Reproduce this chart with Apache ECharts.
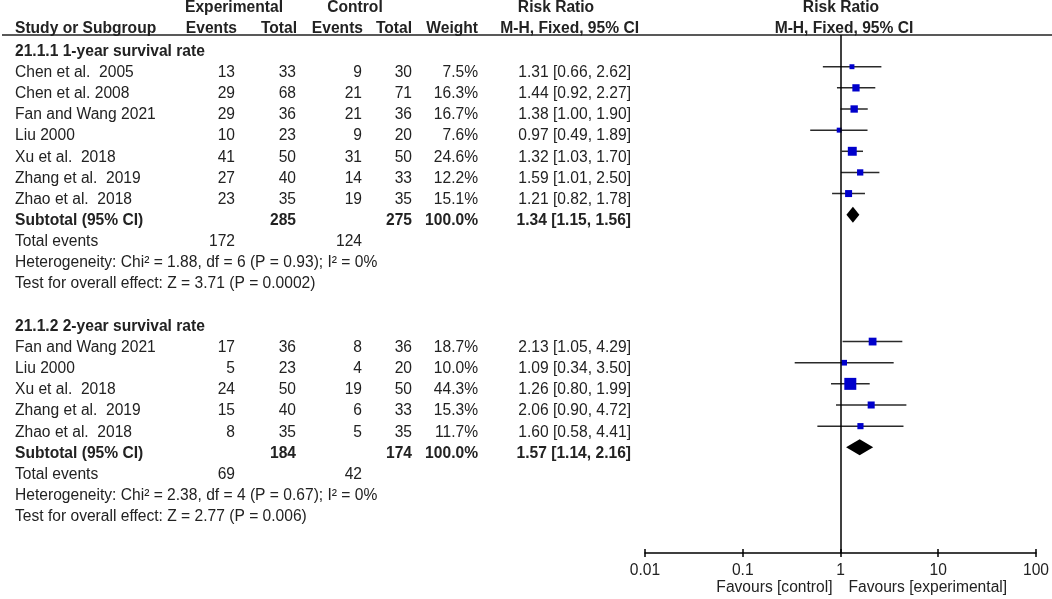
<!DOCTYPE html>
<html>
<head>
<meta charset="utf-8">
<title>Forest plot</title>
<script src="https://cdn.jsdelivr.net/npm/echarts@6/dist/echarts.min.js"></script>
<style>
    html, body { margin: 0; padding: 0; background: #fff; }
    #forestPlot { width: 1052px; height: 599px; }
</style>
</head>
<body>
<div id="forestPlot"></div>
<script>
// group 1: 1-year survival rate
var studies1 = ['Chen et al.  2005', 'Chen et al. 2008', 'Fan and Wang 2021', 'Liu 2000', 'Xu et al.  2018', 'Zhang et al.  2019', 'Zhao et al.  2018'];
var expEvents1 = [13, 29, 29, 10, 41, 27, 23];
var expTotal1 = [33, 68, 36, 23, 50, 40, 35];
var ctrlEvents1 = [9, 21, 21, 9, 31, 14, 19];
var ctrlTotal1 = [30, 71, 36, 20, 50, 33, 35];
var weight1 = [7.5, 16.3, 16.7, 7.6, 24.6, 12.2, 15.1];
var rr1 = [1.31, 1.44, 1.38, 0.97, 1.32, 1.59, 1.21];
var lower1 = [0.66, 0.92, 1.00, 0.49, 1.03, 1.01, 0.82];
var upper1 = [2.62, 2.27, 1.90, 1.89, 1.70, 2.50, 1.78];

// group 2: 2-year survival rate
var studies2 = ['Fan and Wang 2021', 'Liu 2000', 'Xu et al.  2018', 'Zhang et al.  2019', 'Zhao et al.  2018'];
var expEvents2 = [17, 5, 24, 15, 8];
var expTotal2 = [36, 23, 50, 40, 35];
var ctrlEvents2 = [8, 4, 19, 6, 5];
var ctrlTotal2 = [36, 20, 50, 33, 35];
var weight2 = [18.7, 10.0, 44.3, 15.3, 11.7];
var rr2 = [2.13, 1.09, 1.26, 2.06, 1.60];
var lower2 = [1.05, 0.34, 0.80, 0.90, 0.58];
var upper2 = [4.29, 3.50, 1.99, 4.72, 4.41];

// subtotals [group1, group2]
var groupTitles = ['21.1.1 1-year survival rate', '21.1.2 2-year survival rate'];
var subExpTotal = [285, 184];
var subCtrlTotal = [275, 174];
var subRR = [1.34, 1.57];
var subLower = [1.15, 1.14];
var subUpper = [1.56, 2.16];
var totalExpEvents = [172, 69];
var totalCtrlEvents = [124, 42];
var heterogeneity = ['Heterogeneity: Chi\u00b2 = 1.88, df = 6 (P = 0.93); I\u00b2 = 0%', 'Heterogeneity: Chi\u00b2 = 2.38, df = 4 (P = 0.67); I\u00b2 = 0%'];
var overallTest = ['Test for overall effect: Z = 3.71 (P = 0.0002)', 'Test for overall effect: Z = 2.77 (P = 0.006)'];

var tickLabels = ['0.01', '0.1', '1', '10', '100'];
var favourLabels = ['Favours [control]', 'Favours [experimental]'];

// row index of each block (row 0 = first group title)
var groupStart = [0, 13];

var FONT = "'Liberation Sans', Arial, sans-serif";
var FS = 15.6;
var TEXT = '#222';
var rowTop = 51.5;
var rowH = 21.15;

function fmtCI(r, l, u) {
    return r.toFixed(2) + ' [' + l.toFixed(2) + ', ' + u.toFixed(2) + ']';
}

// study rows for the plot: [rr, lower, upper, row, weight]
var studyData = [];
var tableRows = [];
var groups = [
    [studies1, expEvents1, expTotal1, ctrlEvents1, ctrlTotal1, weight1, rr1, lower1, upper1],
    [studies2, expEvents2, expTotal2, ctrlEvents2, ctrlTotal2, weight2, rr2, lower2, upper2]
];
var diamondData = [];

groups.forEach(function (g, gi) {
    var start = groupStart[gi];
    tableRows.push({ row: start, bold: true, cells: [groupTitles[gi]] });
    for (var i = 0; i < g[0].length; i++) {
        var row = start + 1 + i;
        studyData.push([g[6][i], g[7][i], g[8][i], row, g[5][i]]);
        tableRows.push({
            row: row, bold: false,
            cells: [g[0][i], g[1][i], g[2][i], g[3][i], g[4][i], g[5][i].toFixed(1) + '%', fmtCI(g[6][i], g[7][i], g[8][i])]
        });
    }
    var sub = start + 1 + g[0].length;
    diamondData.push([subRR[gi], subLower[gi], subUpper[gi], sub]);
    tableRows.push({
        row: sub, bold: true,
        cells: ['Subtotal (95% CI)', '', subExpTotal[gi], '', subCtrlTotal[gi], '100.0%', fmtCI(subRR[gi], subLower[gi], subUpper[gi])]
    });
    tableRows.push({ row: sub + 1, bold: false, cells: ['Total events', totalExpEvents[gi], '', totalCtrlEvents[gi]] });
    tableRows.push({ row: sub + 2, bold: false, cells: [heterogeneity[gi]] });
    tableRows.push({ row: sub + 3, bold: false, cells: [overallTest[gi]] });
});

// column anchors: first is left aligned, the rest right aligned
var colX = [15, 235, 296, 362, 412, 478, 631];

function txt(s, x, y, align, bold) {
    return {
        type: 'text',
        x: x, y: y,
        silent: true,
        style: {
            text: String(s),
            fill: TEXT,
            font: (bold ? 'bold ' : '') + FS + 'px ' + FONT,
            textAlign: align,
            textVerticalAlign: 'middle'
        }
    };
}

var graphics = [];
// header rule
graphics.push({
    type: 'line', silent: true,
    shape: { x1: 2, y1: 35, x2: 1052, y2: 35 },
    style: { stroke: '#222', lineWidth: 1.5 }
});
graphics.push(txt('Experimental', 234, 8, 'center', true));
graphics.push(txt('Control', 355, 8, 'center', true));
graphics.push(txt('Risk Ratio', 556, 8, 'center', true));
graphics.push(txt('Risk Ratio', 841, 8, 'center', true));
graphics.push(txt('Study or Subgroup', 15, 29, 'left', true));
graphics.push(txt('Events', 237, 29, 'right', true));
graphics.push(txt('Total', 297, 29, 'right', true));
graphics.push(txt('Events', 363, 29, 'right', true));
graphics.push(txt('Total', 412, 29, 'right', true));
graphics.push(txt('Weight', 478, 29, 'right', true));
graphics.push(txt('M-H, Fixed, 95% CI', 639, 29, 'right', true));
graphics.push(txt('M-H, Fixed, 95% CI', 844, 29, 'center', true));

tableRows.forEach(function (r) {
    var y = rowTop + r.row * rowH;
    r.cells.forEach(function (c, ci) {
        if (c === '') return;
        graphics.push(txt(c, colX[ci], y, ci === 0 ? 'left' : 'right', r.bold));
    });
});

function renderStudy(params, api) {
    var k = api.value(3);
    var mid = api.coord([api.value(0), k]);
    var lo = api.coord([api.value(1), k]);
    var hi = api.coord([api.value(2), k]);
    // square area follows the study weight
    var side = 1.8 * Math.sqrt(api.value(4));
    return {
        type: 'group',
        children: [{
            type: 'line',
            shape: { x1: lo[0], y1: lo[1], x2: hi[0], y2: hi[1] },
            style: { stroke: '#2a2a2a', lineWidth: 1.5 }
        }, {
            type: 'rect',
            shape: { x: mid[0] - side / 2, y: mid[1] - side / 2, width: side, height: side },
            style: { fill: '#0000cc' }
        }]
    };
}

function renderDiamond(params, api) {
    var k = api.value(3);
    var mid = api.coord([api.value(0), k]);
    var lo = api.coord([api.value(1), k]);
    var hi = api.coord([api.value(2), k]);
    return {
        type: 'polygon',
        shape: { points: [[lo[0], lo[1]], [mid[0], mid[1] - 8], [hi[0], hi[1]], [mid[0], mid[1] + 8]] },
        style: { fill: '#000' }
    };
}

var chartDom = document.getElementById('forestPlot');
var myChart = echarts.init(chartDom);
var option;

option = {
    animation: false,
    backgroundColor: '#fff',
    grid: {
        left: 645,
        width: 391,
        top: 35,
        bottom: 46
    },
    xAxis: [{
        type: 'log',
        logBase: 10,
        min: 0.01,
        max: 100,
        position: 'bottom',
        axisLine: { onZero: false, lineStyle: { color: '#000', width: 1.5 } },
        axisTick: { length: 4, lineStyle: { color: '#000', width: 1.5 } },
        splitLine: { show: false },
        axisLabel: {
            margin: 10,
            color: TEXT,
            fontFamily: FONT,
            fontSize: FS,
            formatter: function (v) {
                return tickLabels[Math.round(Math.log10(v)) + 2];
            }
        }
    }, {
        // second copy of the axis only for the inner half of the ticks
        type: 'log',
        logBase: 10,
        min: 0.01,
        max: 100,
        position: 'bottom',
        axisLine: { show: false, onZero: false },
        axisTick: { inside: true, length: 4, lineStyle: { color: '#000', width: 1.5 } },
        splitLine: { show: false },
        axisLabel: { show: false }
    }],
    yAxis: {
        type: 'value',
        inverse: true,
        min: -0.5,
        max: 24,
        show: false
    },
    series: [{
        name: 'studies',
        type: 'custom',
        renderItem: renderStudy,
        encode: { x: [0, 1, 2], y: 3 },
        data: studyData,
        silent: true,
        markLine: {
            silent: true,
            symbol: ['none', 'none'],
            label: { show: false },
            lineStyle: { color: '#000', width: 1.5, type: 'solid' },
            data: [{ xAxis: 1 }]
        },
        z: 3
    }, {
        name: 'subtotals',
        type: 'custom',
        renderItem: renderDiamond,
        encode: { x: [0, 1, 2], y: 3 },
        data: diamondData,
        silent: true,
        z: 4
    }],
    graphic: graphics
};

option && myChart.setOption(option);

// favour labels sit either side of the null line
var nullX = myChart.convertToPixel({ xAxisIndex: 0 }, 1);
myChart.setOption({
    graphic: graphics.concat([
        txt(favourLabels[0], nullX - 8, 588, 'right', false),
        txt(favourLabels[1], nullX + 8, 588, 'left', false)
    ])
});

window.onresize = function () {
    myChart.resize();
};
</script>
</body>
</html>
